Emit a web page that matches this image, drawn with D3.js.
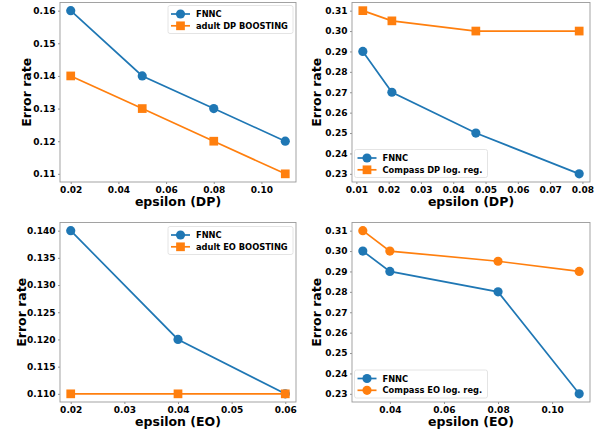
<!DOCTYPE html>
<html lang="en">
<head>
    <meta charset="utf-8">
    <title>FNNC error rates</title>
    <script src="https://d3js.org/d3.v7.min.js"></script>
    <style>
        body { margin: 0; background: #fff; }
        text { font-family: "DejaVu Sans", sans-serif; font-weight: bold; fill: #000; }
    </style>
</head>
<body>
<div id="chart"></div>
<script>
    // ---- data ----
    var adultDpEps = [0.02, 0.05, 0.08, 0.11];
    var adultDpFnnc = [0.16, 0.14, 0.13, 0.12];
    var adultDpBoost = [0.14, 0.13, 0.12, 0.11];
    var adultDpTicksX = [0.02, 0.04, 0.06, 0.08, 0.10];
    var adultDpTicksY = [0.11, 0.12, 0.13, 0.14, 0.15, 0.16];

    var compassDpEps = [0.012, 0.021, 0.047, 0.079];
    var compassDpFnnc = [0.29, 0.27, 0.25, 0.23];
    var compassDpLogreg = [0.31, 0.305, 0.30, 0.30];
    var compassDpTicksX = [0.01, 0.02, 0.03, 0.04, 0.05, 0.06, 0.07, 0.08];
    var compassDpTicksY = [0.23, 0.24, 0.25, 0.26, 0.27, 0.28, 0.29, 0.30, 0.31];

    var adultEoEps = [0.02, 0.04, 0.06];
    var adultEoFnnc = [0.14, 0.12, 0.11];
    var adultEoBoost = [0.11, 0.11, 0.11];
    var adultEoTicksX = [0.02, 0.03, 0.04, 0.05, 0.06];
    var adultEoTicksY = [0.110, 0.115, 0.120, 0.125, 0.130, 0.135, 0.140];

    var compassEoEps = [0.03, 0.04, 0.08, 0.11];
    var compassEoFnnc = [0.30, 0.29, 0.28, 0.23];
    var compassEoLogreg = [0.31, 0.30, 0.295, 0.29];
    var compassEoTicksX = [0.04, 0.06, 0.08, 0.10];
    var compassEoTicksY = [0.23, 0.24, 0.25, 0.26, 0.27, 0.28, 0.29, 0.30, 0.31];

    var blue = "#1f77b4", orange = "#ff7f0e";

    var svg = d3.select("#chart").append("svg")
        .attr("width", 595)
        .attr("height", 431);

    // matplotlib style 5% padding
    function padded(vals) {
        var lo = d3.min(vals), hi = d3.max(vals), p = (hi - lo) * 0.05;
        return [lo - p, hi + p];
    }

    function markerPath(m) {
        return d3.symbol().type(m === "s" ? d3.symbolSquare : d3.symbolCircle)
            .size(m === "s" ? 76 : 66)();
    }

    function drawPanel(p) {
        var x = d3.scaleLinear().domain(padded(p.xs)).range([p.left, p.right]);
        var allY = p.series[0].values.concat(p.series[1].values);
        var y = d3.scaleLinear().domain(padded(allY)).range([p.bottom, p.top]);

        // x axis
        var gx = svg.append("g")
            .attr("transform", "translate(0," + p.bottom + ")")
            .call(d3.axisBottom(x).tickValues(p.ticksX).tickFormat(d3.format(".2f"))
                .tickSize(2).tickPadding(2.5));
        // y axis
        var gy = svg.append("g")
            .attr("transform", "translate(" + p.left + ",0)")
            .call(d3.axisLeft(y).tickValues(p.ticksY).tickFormat(d3.format(p.yFmt))
                .tickSize(2).tickPadding(2.5));
        [gx, gy].forEach(function(g) {
            g.select(".domain").remove();
            g.selectAll(".tick line").attr("stroke", "#777").attr("stroke-width", 0.8);
            g.selectAll(".tick text").style("font-size", "9px")
                .style("font-family", "DejaVu Sans").style("font-weight", "bold");
        });

        // frame
        svg.append("rect")
            .attr("x", p.left).attr("y", p.top)
            .attr("width", p.right - p.left).attr("height", p.bottom - p.top)
            .attr("fill", "none").attr("stroke", "#999").attr("stroke-width", 0.9);

        // series
        p.series.forEach(function(s) {
            var pts = p.xs.map(function(v, i) { return [v, s.values[i]]; });
            svg.append("path")
                .datum(pts)
                .attr("fill", "none")
                .attr("stroke", s.color)
                .attr("stroke-width", 1.7)
                .attr("d", d3.line().x(function(d) { return x(d[0]); }).y(function(d) { return y(d[1]); }));
            svg.append("g").selectAll("path")
                .data(pts)
                .enter().append("path")
                .attr("transform", function(d) { return "translate(" + x(d[0]) + "," + y(d[1]) + ")"; })
                .attr("d", markerPath(s.marker))
                .attr("fill", s.color);
        });

        // axis labels
        svg.append("text")
            .attr("x", (p.left + p.right) / 2)
            .attr("y", p.bottom + 24)
            .attr("text-anchor", "middle")
            .style("font-size", "12.5px")
            .text(p.xLabel);
        svg.append("text")
            .attr("transform", "translate(" + (p.left - p.yLabelOff) + "," + ((p.top + p.bottom) / 2) + ") rotate(-90)")
            .attr("text-anchor", "middle")
            .style("font-size", "12.5px")
            .text("Error rate");

        // legend
        var lg = p.legend;
        svg.append("rect")
            .attr("x", lg.x).attr("y", lg.y)
            .attr("width", lg.w).attr("height", 28)
            .attr("rx", 2)
            .attr("fill", "#fff").attr("fill-opacity", 0.85)
            .attr("stroke", "#ddd").attr("stroke-width", 0.8);
        p.series.forEach(function(s, i) {
            var cy = lg.y + 8.5 + i * 11.8;
            svg.append("line")
                .attr("x1", lg.x + 3).attr("x2", lg.x + 22)
                .attr("y1", cy).attr("y2", cy)
                .attr("stroke", s.color).attr("stroke-width", 1.7);
            svg.append("path")
                .attr("transform", "translate(" + (lg.x + 12.5) + "," + cy + ")")
                .attr("d", markerPath(s.marker))
                .attr("fill", s.color);
            svg.append("text")
                .attr("x", lg.x + 28)
                .attr("y", cy + 3)
                .style("font-size", "8.3px")
                .text(s.name);
        });
    }

    drawPanel({
        left: 60, right: 296, top: 2.5, bottom: 182,
        xs: adultDpEps, ticksX: adultDpTicksX, ticksY: adultDpTicksY, yFmt: ".2f",
        xLabel: "epsilon (DP)", yLabelOff: 29,
        series: [
            { name: "FNNC", values: adultDpFnnc, color: blue, marker: "o" },
            { name: "adult DP BOOSTING", values: adultDpBoost, color: orange, marker: "s" }
        ],
        legend: { x: 168, y: 5.5, w: 125 }
    });

    drawPanel({
        left: 352, right: 590, top: 2.5, bottom: 182,
        xs: compassDpEps, ticksX: compassDpTicksX, ticksY: compassDpTicksY, yFmt: ".2f",
        xLabel: "epsilon (DP)", yLabelOff: 31,
        series: [
            { name: "FNNC", values: compassDpFnnc, color: blue, marker: "o" },
            { name: "Compass DP log. reg.", values: compassDpLogreg, color: orange, marker: "s" }
        ],
        legend: { x: 354.5, y: 149.5, w: 133 }
    });

    drawPanel({
        left: 60, right: 296, top: 222.5, bottom: 402,
        xs: adultEoEps, ticksX: adultEoTicksX, ticksY: adultEoTicksY, yFmt: ".3f",
        xLabel: "epsilon (EO)", yLabelOff: 34,
        series: [
            { name: "FNNC", values: adultEoFnnc, color: blue, marker: "o" },
            { name: "adult EO BOOSTING", values: adultEoBoost, color: orange, marker: "s" }
        ],
        legend: { x: 168, y: 226.5, w: 125 }
    });

    drawPanel({
        left: 352, right: 590, top: 222.5, bottom: 402,
        xs: compassEoEps, ticksX: compassEoTicksX, ticksY: compassEoTicksY, yFmt: ".2f",
        xLabel: "epsilon (EO)", yLabelOff: 31,
        series: [
            { name: "FNNC", values: compassEoFnnc, color: blue, marker: "o" },
            { name: "Compass EO log. reg.", values: compassEoLogreg, color: orange, marker: "o" }
        ],
        legend: { x: 354.5, y: 370, w: 133 }
    });
</script>
</body>
</html>
